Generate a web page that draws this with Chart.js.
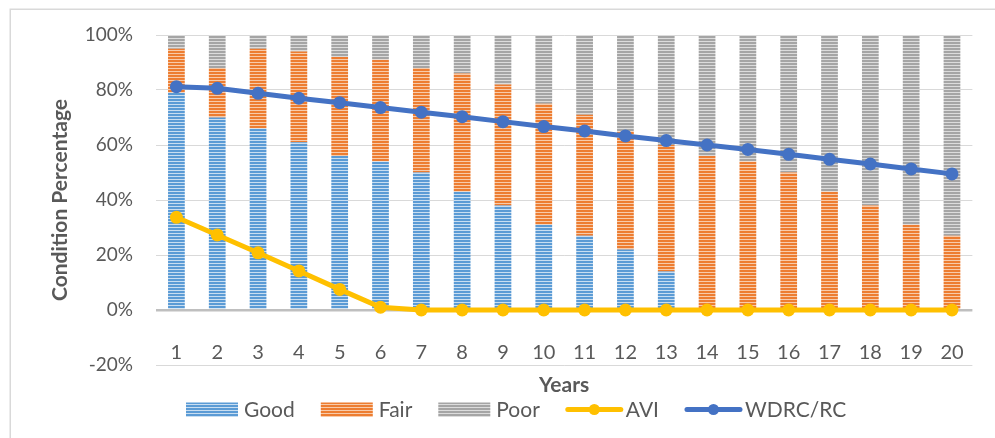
<!DOCTYPE html>
<html>
<head>
<meta charset="utf-8">
<script src="https://cdn.jsdelivr.net/npm/chart.js@4"></script>
<style>
  html, body { margin: 0; padding: 0; background: #ffffff; }
  #wrap { width: 995px; height: 438px; }
</style>
</head>
<body>
<div id="wrap"><canvas id="chart" width="995" height="438"></canvas></div>
<script>
// Condition of the network over a 20-year horizon (percent of assets)
const years = ['1','2','3','4','5','6','7','8','9','10','11','12','13','14','15','16','17','18','19','20'];
const good  = [79, 70, 66, 61, 56, 54, 50, 43, 38, 31, 27, 22, 14, 0, 0, 0, 0, 0, 0, 0];
const fair  = [16, 18, 29, 33, 36, 37, 38, 43, 44, 44, 44, 43, 46, 56, 54, 50, 43, 38, 31, 27];
const poor  = [5, 12, 5, 6, 8, 9, 12, 14, 18, 25, 29, 35, 40, 44, 46, 50, 57, 62, 69, 73];
const avi   = [33.7, 27.3, 20.8, 14.2, 7.5, 1.0, 0, 0, 0, 0, 0, 0, 0, 0, 0, 0, 0, 0, 0, 0];
const wdrc  = [81.2, 80.6, 78.8, 77.0, 75.4, 73.6, 71.9, 70.3, 68.5, 66.7, 65.1, 63.3, 61.6, 60.0, 58.4, 56.6, 54.8, 53.1, 51.3, 49.5];
const yTicks = [-20, 0, 20, 40, 60, 80, 100];

const TEXT = '#595959';
const FONT = 'Lato, "Open Sans", sans-serif';

const canvas = document.getElementById('chart');
const ctx = canvas.getContext('2d');

// narrow horizontal stripe fill: two rows of colour, one lighter row
function stripes(color, light) {
  const t = document.createElement('canvas');
  t.width = 4; t.height = 3;
  const g = t.getContext('2d');
  g.fillStyle = color; g.fillRect(0, 0, 4, 3);
  g.fillStyle = light; g.fillRect(0, 2, 4, 1);
  return ctx.createPattern(t, 'repeat');
}

const goodFill = stripes('#5B9BD5', '#C9DEF1');
const fairFill = stripes('#ED7D31', '#F8CBAA');
const poorFill = stripes('#A5A5A5', '#DCDCDC');

// frame, axis titles and legend
const decor = {
  id: 'decor',
  beforeDraw(chart) {
    const c = chart.ctx;
    c.save();
    c.strokeStyle = '#D9D9D9';
    c.lineWidth = 1.5;
    c.beginPath();
    c.moveTo(10.25, 438);
    c.lineTo(10.25, 9.25);
    c.lineTo(995, 9.25);
    c.stroke();
    c.restore();
  },
  afterDraw(chart) {
    const c = chart.ctx;
    const area = chart.chartArea;
    c.save();
    c.fillStyle = TEXT;
    c.font = 'bold 21px ' + FONT;
    c.textAlign = 'center';
    c.textBaseline = 'alphabetic';
    c.fillText('Years', (area.left + area.right) / 2, 391.5);

    c.save();
    c.translate(66.5, (area.top + area.bottom) / 2);
    c.rotate(-Math.PI / 2);
    c.fillText('Condition Percentage', 0, 0);
    c.restore();

    // legend
    c.font = '21px ' + FONT;
    c.textAlign = 'left';
    c.textBaseline = 'alphabetic';
    let x = 186;
    const cy = 409.5;
    chart.data.datasets.forEach(ds => {
      if (ds.type === 'line') {
        c.strokeStyle = ds.borderColor;
        c.lineWidth = 5;
        c.lineCap = 'round';
        c.beginPath();
        c.moveTo(x + 2, cy);
        c.lineTo(x + 55, cy);
        c.stroke();
        c.fillStyle = ds.borderColor;
        c.beginPath();
        c.arc(x + 28.5, cy, 5.5, 0, Math.PI * 2);
        c.fill();
        x += 60;
      } else {
        c.fillStyle = ds.backgroundColor;
        c.fillRect(x, 402.5, 52, 14.5);
        x += 58;
      }
      c.fillStyle = TEXT;
      c.fillText(ds.label, x, 416.8);
      x += c.measureText(ds.label).width + 26;
    });
    c.restore();
  }
};

new Chart(ctx, {
  data: {
    labels: years,
    datasets: [
      { type: 'bar', label: 'Good', data: good, backgroundColor: goodFill, stack: 'cond', order: 1,
        barPercentage: 0.41, categoryPercentage: 1 },
      { type: 'bar', label: 'Fair', data: fair, backgroundColor: fairFill, stack: 'cond', order: 1,
        barPercentage: 0.41, categoryPercentage: 1 },
      { type: 'bar', label: 'Poor', data: poor, backgroundColor: poorFill, stack: 'cond', order: 1,
        barPercentage: 0.41, categoryPercentage: 1 },
      { type: 'line', label: 'AVI', data: avi, stack: 'avi', order: 0,
        borderColor: '#FFC000', backgroundColor: '#FFC000', borderWidth: 5,
        pointRadius: 6.5, pointBackgroundColor: '#FFC000', pointBorderWidth: 0, tension: 0 },
      { type: 'line', label: 'WDRC/RC', data: wdrc, stack: 'wdrc', order: 0,
        borderColor: '#4472C4', backgroundColor: '#4472C4', borderWidth: 5,
        pointRadius: 6.5, pointBackgroundColor: '#4472C4', pointBorderWidth: 0, tension: 0 }
    ]
  },
  options: {
    responsive: false,
    animation: false,
    devicePixelRatio: 1,
    layout: { padding: { left: 0, right: 17, top: 35, bottom: 73 } },
    plugins: { legend: { display: false }, tooltip: { enabled: false }, title: { display: false } },
    scales: {
      x: {
        type: 'category',
        stacked: true,
        position: { y: 0 },
        grid: { display: false, drawTicks: false },
        border: { display: false },
        ticks: { color: TEXT, font: { family: FONT, size: 20 }, padding: 31, maxRotation: 0, autoSkip: false }
      },
      y: {
        stacked: true,
        min: -20,
        max: 100,
        afterFit(scale) { scale.width = 156; },
        afterBuildTicks(scale) { scale.ticks = yTicks.map(v => ({ value: v })); },
        grid: {
          drawTicks: false,
          color: c => (c.tick && c.tick.value === 0) ? '#BFBFBF' : '#D9D9D9',
          lineWidth: c => (c.tick && c.tick.value === 0) ? 2.5 : 1
        },
        border: { display: false },
        ticks: { color: TEXT, font: { family: FONT, size: 19 }, padding: 23, callback: v => v + '%' }
      }
    }
  },
  plugins: [decor]
});
</script>
</body>
</html>
